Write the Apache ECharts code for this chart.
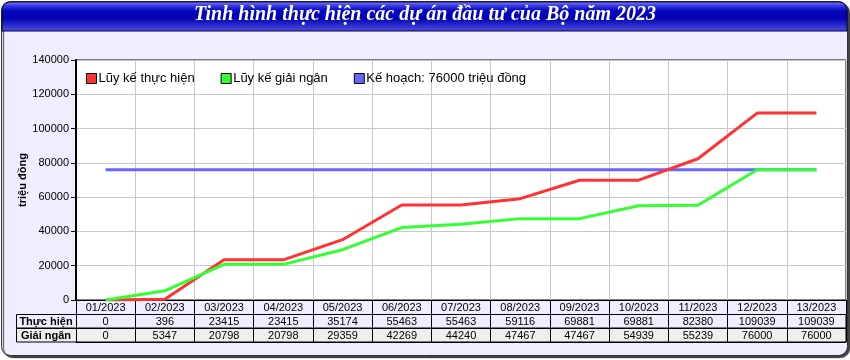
<!DOCTYPE html>
<html>
<head>
<meta charset="utf-8">
<script src="https://cdn.jsdelivr.net/npm/echarts@6/dist/echarts.min.js"></script>
<style>
html,body{margin:0;padding:0;background:#fff;}
#c{width:850px;height:360px;}
</style>
</head>
<body>
<div id="c"></div>
<script>
var titleText = 'Tinh hình thực hiện các dự án đầu tư của Bộ năm 2023';
var months = ['01/2023','02/2023','03/2023','04/2023','05/2023','06/2023','07/2023','08/2023','09/2023','10/2023','11/2023','12/2023','13/2023'];
var thucHien = [0, 396, 23415, 23415, 35174, 55463, 55463, 59116, 69881, 69881, 82380, 109039, 109039];
var giaiNgan = [0, 5347, 20798, 20798, 29359, 42269, 44240, 47467, 47467, 54939, 55239, 76000, 76000];
var keHoach = [76000, 76000, 76000, 76000, 76000, 76000, 76000, 76000, 76000, 76000, 76000, 76000, 76000];
var seriesNames = ['Lũy kế thực hiện', 'Lũy kế giải ngân', 'Kế hoạch: 76000 triệu đồng'];
var rowHeaders = ['Thực hiện', 'Giải ngân'];
var yName = 'triệu đồng';
var yTicks = {min: 0, max: 140000, interval: 20000};

var FONT = 'Liberation Sans';
var chart = echarts.init(document.getElementById('c'), null, {renderer: 'canvas'});

function tableAxis(data, offset, showLabel) {
  return {
    type: 'category', data: data, position: 'bottom', offset: offset, gridIndex: 0,
    boundaryGap: true,
    axisLine: {show: true, lineStyle: {color: '#000', width: 1}},
    axisTick: {show: showLabel, interval: 0, length: 14, inside: false, lineStyle: {color: '#000'}},
    axisLabel: {show: showLabel, interval: 0, margin: 2, fontFamily: FONT, fontSize: 11, color: '#000', lineHeight: 12},
    splitLine: {show: false}
  };
}

var xAxes = [
  {
    type: 'category', data: months, position: 'bottom', boundaryGap: true,
    axisLine: {show: true, lineStyle: {color: '#000', width: 1}},
    axisTick: {show: true, interval: 0, length: 14, lineStyle: {color: '#000'}},
    axisLabel: {interval: 0, margin: 2, fontFamily: FONT, fontSize: 11, color: '#000', lineHeight: 12},
    splitLine: {show: true, interval: 0, lineStyle: {color: '#c8c8c8', width: 1}}
  },
  tableAxis(thucHien.map(String), 14, true),
  tableAxis(giaiNgan.map(String), 28, true),
  tableAxis(months, 42, false)
];

var option = {
  backgroundColor: 'transparent',
  animation: false,
  title: {
    text: titleText, left: 'center', top: 5, padding: 0,
    textStyle: {color: '#fff', fontFamily: 'Liberation Serif', fontStyle: 'italic', fontWeight: 'bold', fontSize: 20}
  },
  graphic: [
    {type: 'rect', z: -20, shape: {x: 1.5, y: 1.5, width: 846, height: 354, r: 9},
     style: {fill: '#eeeeff', stroke: '#333', lineWidth: 1, shadowColor: 'rgba(0,0,0,0.75)', shadowOffsetX: 2, shadowOffsetY: 2, shadowBlur: 1}},
    {type: 'rect', z: -19, shape: {x: 2, y: 2, width: 845, height: 29, r: [8, 8, 0, 0]},
     style: {fill: new echarts.graphic.LinearGradient(0, 0, 0, 1, [
       {offset: 0, color: '#9090ff'}, {offset: 0.12, color: '#4040e8'}, {offset: 0.3, color: '#0808c0'},
       {offset: 0.55, color: '#0000b0'}, {offset: 1, color: '#5050e0'}]),
       stroke: '#000044', lineWidth: 1}},
    {type: 'rect', z: -10, shape: {x: 16.5, y: 314.5, width: 829.5, height: 13.5}, style: {fill: '#eeeeff', stroke: '#000', lineWidth: 1}},
    {type: 'rect', z: -10, shape: {x: 16.5, y: 328.5, width: 829.5, height: 13.5}, style: {fill: '#efefef', stroke: '#000', lineWidth: 1}},
    {type: 'text', z: 5, x: 46, y: 321.5, style: {text: rowHeaders[0], fontFamily: FONT, fontSize: 11, fontWeight: 'bold', fill: '#000', textAlign: 'center', textVerticalAlign: 'middle'}},
    {type: 'text', z: 5, x: 46, y: 335.5, style: {text: rowHeaders[1], fontFamily: FONT, fontSize: 11, fontWeight: 'bold', fill: '#000', textAlign: 'center', textVerticalAlign: 'middle'}}
  ],
  legend: {
    left: 81, top: 67, itemGap: 26, itemWidth: 10, itemHeight: 10, icon: 'rect',
    data: seriesNames,
    itemStyle: {borderColor: '#000', borderWidth: 1},
    textStyle: {fontFamily: FONT, fontSize: 13, color: '#000', padding: [0, 0, 0, -3]}
  },
  grid: {left: 76, right: 4, top: 60, bottom: 60, show: true, backgroundColor: '#fff', borderColor: '#000', borderWidth: 1},
  xAxis: xAxes,
  yAxis: {
    type: 'value', min: yTicks.min, max: yTicks.max, interval: yTicks.interval,
    name: yName, nameLocation: 'middle', nameRotate: 90, nameGap: 48, nameMoveOverlap: false,
    nameTextStyle: {fontFamily: FONT, fontSize: 11, fontWeight: 'bold', color: '#000'},
    axisLine: {show: true, lineStyle: {color: '#000', width: 2}},
    axisTick: {show: true, length: 5, lineStyle: {color: '#000'}},
    axisLabel: {margin: 7, fontFamily: FONT, fontSize: 11, color: '#000', formatter: function (v) { return String(v); }},
    splitLine: {show: true, lineStyle: {color: '#c8c8c8', width: 1}}
  },
  series: [
    {name: seriesNames[2], type: 'line', data: keHoach, symbol: 'none', color: '#6666ff', lineStyle: {width: 3, color: '#6666ff'}, itemStyle: {color: '#6666ff'}},
    {name: seriesNames[0], type: 'line', data: thucHien, symbol: 'none', color: '#ff3333', lineStyle: {width: 3, color: '#ff3333'}, itemStyle: {color: '#ff3333'}},
    {name: seriesNames[1], type: 'line', data: giaiNgan, symbol: 'none', color: '#33ff33', lineStyle: {width: 3, color: '#33ff33'}, itemStyle: {color: '#33ff33'}}
  ]
};
chart.setOption(option);
</script>
</body>
</html>
